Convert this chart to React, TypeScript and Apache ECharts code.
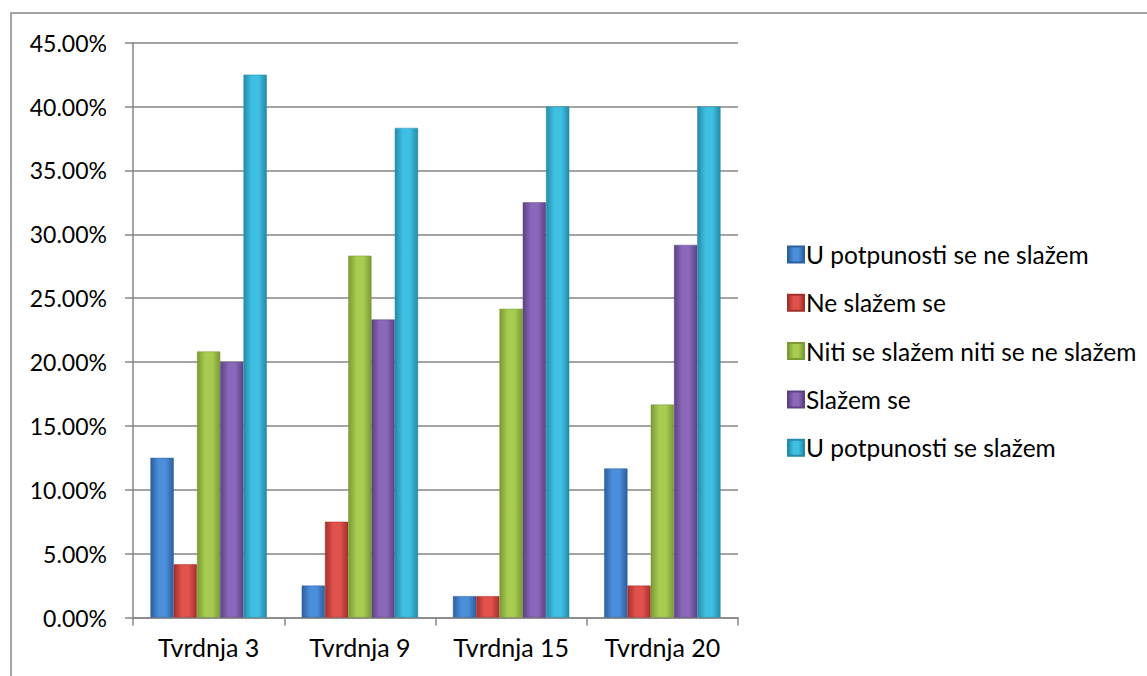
import React, { useEffect, useRef } from "react";
import * as echarts from "echarts";

const categories = ["Tvrdnja 3", "Tvrdnja 9", "Tvrdnja 15", "Tvrdnja 20"];
const seriesNames = [
  "U potpunosti se ne slažem",
  "Ne slažem se",
  "Niti se slažem niti se ne slažem",
  "Slažem se",
  "U potpunosti se slažem",
];
const uPotpunostiNe = [12.5, 2.5, 1.67, 11.67];
const neSlazem = [4.17, 7.5, 1.67, 2.5];
const niti = [20.83, 28.33, 24.17, 16.67];
const slazem = [20.0, 23.33, 32.5, 29.17];
const uPotpunostiDa = [42.5, 38.33, 40.0, 40.0];
const seriesValues = [uPotpunostiNe, neSlazem, niti, slazem, uPotpunostiDa];
const yTicks = { min: 0, max: 45, interval: 5 };

const palette = [
  { edge: "#2c5f9e", mid: "#4b8fdb" },
  { edge: "#a3302d", mid: "#e2524d" },
  { edge: "#7a9a33", mid: "#a8cc52" },
  { edge: "#5c4283", mid: "#8b68ba" },
  { edge: "#248aa8", mid: "#3fc0e2" },
];

const FONT = "Lato, 'Open Sans', sans-serif";

export default function App() {
  const ref = useRef<HTMLDivElement>(null);
  useEffect(() => {
    if (!ref.current) return;
    const chart = echarts.init(ref.current, undefined, { renderer: "svg" });
    const grad = (p: { edge: string; mid: string }) =>
      new echarts.graphic.LinearGradient(0, 0, 1, 0, [
        { offset: 0, color: p.edge },
        { offset: 0.35, color: p.mid },
        { offset: 0.65, color: p.mid },
        { offset: 1, color: p.edge },
      ]);
    chart.setOption({
      animation: false,
      backgroundColor: "#ffffff",
      textStyle: { fontFamily: FONT },
      graphic: [
        {
          type: "rect",
          shape: { x: 11, y: 13, width: 1200, height: 700 },
          style: { fill: "none", stroke: "#878787", lineWidth: 1.5 },
          silent: true,
        },
      ],
      grid: { left: 133, right: 409, top: 42.7, bottom: 58.5, containLabel: false },
      legend: {
        orient: "vertical",
        left: 782,
        top: 237,
        itemWidth: 16,
        itemHeight: 16,
        itemGap: 23.3,
        icon: "rect",
        data: seriesNames,
        textStyle: { fontFamily: FONT, fontSize: 24.5, color: "#000", lineHeight: 24, padding: [0, 0, 0, -3] },
      },
      xAxis: {
        type: "category",
        data: categories,
        axisLine: { lineStyle: { color: "#868686", width: 1.5 } },
        axisTick: { show: true, length: 8, lineStyle: { color: "#868686", width: 1.5 } },
        axisLabel: { color: "#000", fontSize: 25, margin: 17, fontFamily: FONT },
      },
      yAxis: {
        type: "value",
        min: yTicks.min,
        max: yTicks.max,
        interval: yTicks.interval,
        axisLine: { show: true, lineStyle: { color: "#868686", width: 1.5 } },
        axisTick: { show: true, length: 8, lineStyle: { color: "#868686", width: 1.5 } },
        splitLine: { lineStyle: { color: "#868686", width: 1.5 } },
        axisLabel: {
          color: "#000",
          fontSize: 23,
          margin: 26,
          fontFamily: FONT,
          formatter: (v: number) => v.toFixed(2) + "%",
        },
      },
      series: seriesValues.map((vals, i) => ({
        name: seriesNames[i],
        type: "bar",
        data: vals,
        barGap: "0%",
        barCategoryGap: "23.08%",
        itemStyle: { color: grad(palette[i]), borderColor: palette[i].edge, borderWidth: 0.5 },
      })),
    });
    return () => chart.dispose();
  }, []);
  return (
    <div
      ref={ref}
      style={{ position: "absolute", left: 0, top: 0, width: 1147, height: 676 }}
    />
  );
}
